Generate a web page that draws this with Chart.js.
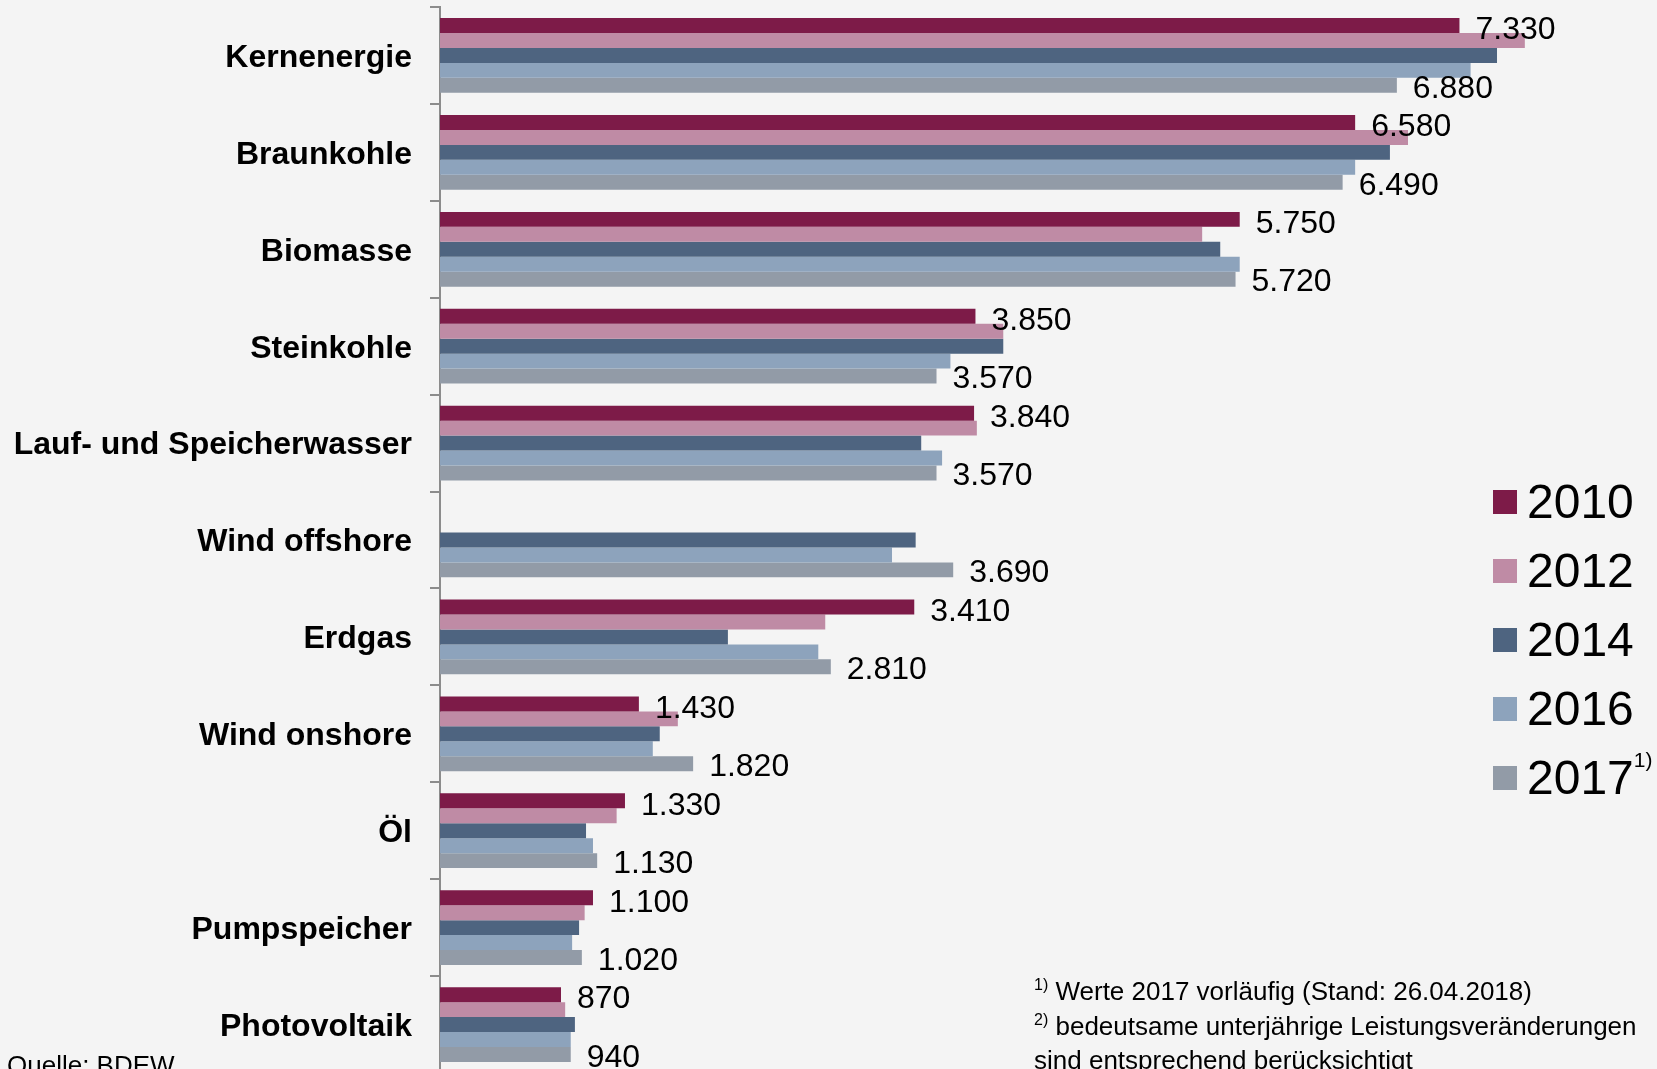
<!DOCTYPE html>
<html lang="de">
<head>
<meta charset="utf-8">
<title>Volllaststunden nach Energieträgern</title>
<script src="https://cdn.jsdelivr.net/npm/chart.js@4.4.1/dist/chart.umd.min.js"></script>
<style>
  html, body { margin: 0; padding: 0; background: #f4f4f4; overflow: hidden; }
  body { width: 1657px; height: 1069px; position: relative; font-family: "Liberation Sans", Arial, sans-serif; color: #000; }
  #wrap { position: absolute; left: 0; top: 0; width: 1657px; height: 1073px; }
  #chart { display: block; }
  #legende { position: absolute; left: 1493px; top: 467px; }
  .eintrag { display: flex; align-items: center; height: 69px; font-size: 48px; line-height: 48px; white-space: nowrap; }
  .box { width: 24px; height: 24px; margin-right: 10px; }
  .hoch-gross { font-size: 21px; position: relative; top: -18px; }
  .fussnote { position: absolute; left: 1034px; top: 976px; font-size: 26px; line-height: 31.5px; white-space: nowrap; }
  .hoch { font-size: 16px; position: relative; top: -10px; }
  #quelle { position: absolute; left: 7px; top: 1052px; font-size: 26px; line-height: 26px; white-space: nowrap; }
</style>
</head>
<body>
<div id="wrap"><canvas id="chart" width="1657" height="1073"></canvas></div>
<div id="legende"></div>
<div class="fussnote">
  <span class="hoch">1)</span> Werte 2017 vorläufig (Stand: 26.04.2018)<br>
  <span class="hoch">2)</span> bedeutsame unterjährige Leistungsveränderungen<br>
  sind entsprechend berücksichtigt
</div>
<div id="quelle">Quelle: BDEW</div>

<script>
const kategorien = ["Kernenergie", "Braunkohle", "Biomasse", "Steinkohle", "Lauf- und Speicherwasser",
  "Wind offshore", "Erdgas", "Wind onshore", "Öl", "Pumpspeicher", "Photovoltaik"];

const jahre = ["2010", "2012", "2014", "2016", "2017"];

// Volllaststunden je Jahr
const werte_2010 = [7330, 6580, 5750, 3850, 3840, null, 3410, 1430, 1330, 1100, 870];
const werte_2012 = [7800, 6960, 5480, 4050, 3860, null, 2770, 1710, 1270, 1040, 900];
const werte_2014 = [7600, 6830, 5610, 4050, 3460, 3420, 2070, 1580, 1050, 1000, 970];
const werte_2016 = [7410, 6580, 5750, 3670, 3610, 3250, 2720, 1530, 1100, 950, 940];
const werte_2017 = [6880, 6490, 5720, 3570, 3570, 3690, 2810, 1820, 1130, 1020, 940];

const farben = ["#7d1b48", "#bf8ba5", "#4e6480", "#8da3bc", "#929ba7"];

const schrift = "'Liberation Sans', Arial, sans-serif";

function punkt(v) {
  return String(v).replace(/\B(?=(\d{3})+(?!\d))/g, ".");
}

// Werte an 2010 und 2017 Balken
const wertLabels = {
  id: "wertLabels",
  afterDatasetsDraw(chart) {
    const ctx = chart.ctx;
    ctx.save();
    ctx.font = "32px " + schrift;
    ctx.fillStyle = "#000";
    ctx.textBaseline = "middle";
    ctx.textAlign = "left";
    [[0, 5], [4, 3.5]].forEach(([ds, dy]) => {
      chart.getDatasetMeta(ds).data.forEach((bar, i) => {
        const v = chart.data.datasets[ds].data[i];
        if (v == null) return;
        ctx.fillText(punkt(v), bar.x + 16, bar.y + dy);
      });
    });
    ctx.restore();
  }
};

const alleWerte = [werte_2010, werte_2012, werte_2014, werte_2016, werte_2017];

new Chart(document.getElementById("chart"), {
  type: "bar",
  data: {
    labels: kategorien,
    datasets: jahre.map((j, i) => ({
      label: j,
      data: alleWerte[i],
      backgroundColor: farben[i],
      borderWidth: 0,
      categoryPercentage: 0.771,
      barPercentage: 1.0
    }))
  },
  options: {
    indexAxis: "y",
    responsive: false,
    animation: false,
    layout: { padding: { top: 7, right: 7, bottom: 0, left: 0 } },
    scales: {
      x: {
        type: "linear",
        min: 0,
        max: 8700,
        display: false
      },
      y: {
        grid: {
          offset: true,
          drawOnChartArea: false,
          drawTicks: true,
          tickLength: 10,
          color: "#8c8c8c",
          lineWidth: 2
        },
        border: { display: true, color: "#8c8c8c", width: 2 },
        ticks: {
          color: "#000",
          autoSkip: false,
          padding: 18,
          labelOffset: 2.5,
          font: { family: schrift, size: 32, weight: "bold" }
        },
        afterFit: function (scale) {
          scale.width = 440;
          scale.paddingTop = 0;
          scale.paddingBottom = 0;
        }
      }
    },
    plugins: {
      legend: { display: false },
      tooltip: { enabled: false }
    }
  },
  plugins: [wertLabels]
});

// Legende rechts
const legende = document.getElementById("legende");
jahre.forEach((j, i) => {
  const zeile = document.createElement("div");
  zeile.className = "eintrag";
  const box = document.createElement("div");
  box.className = "box";
  box.style.background = farben[i];
  const txt = document.createElement("span");
  txt.textContent = j;
  zeile.appendChild(box);
  zeile.appendChild(txt);
  if (j === "2017") {
    const sup = document.createElement("span");
    sup.className = "hoch-gross";
    sup.textContent = "1)";
    zeile.appendChild(sup);
  }
  legende.appendChild(zeile);
});
</script>
</body>
</html>
